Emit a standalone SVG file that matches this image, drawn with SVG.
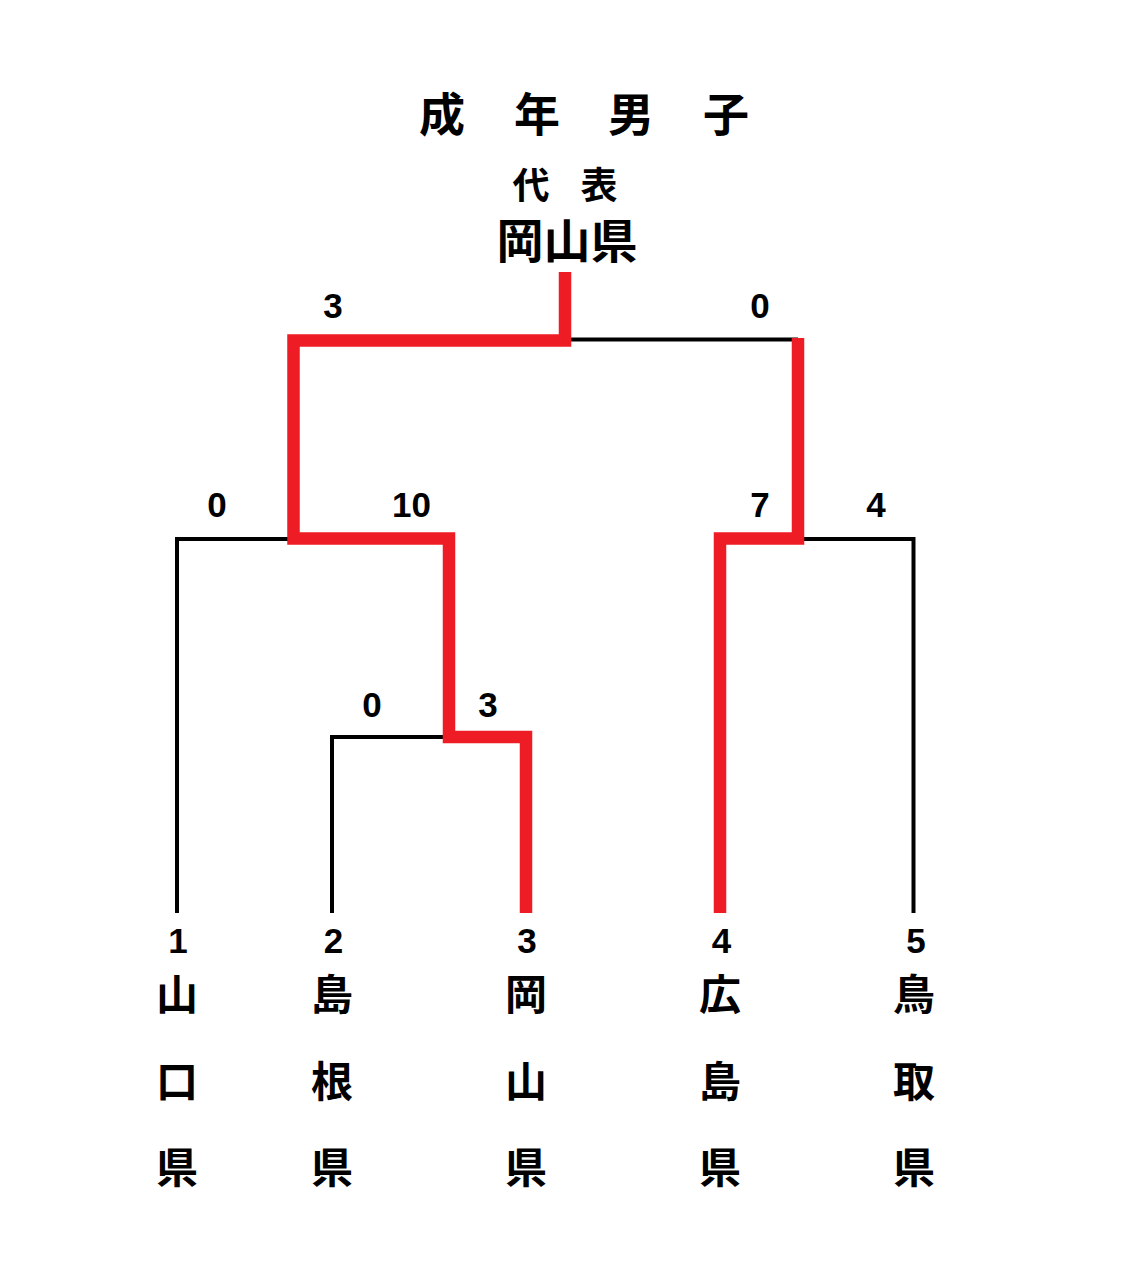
<svg xmlns="http://www.w3.org/2000/svg" width="1129" height="1280" viewBox="0 0 1129 1280">
<style>
.jp{font-family:"Noto Sans CJK JP","Noto Sans CJK SC",sans-serif;font-weight:bold;fill:#000;text-anchor:middle}
.num{font-family:"Liberation Sans",Arial,sans-serif;font-weight:bold;font-size:35px;fill:#000;text-anchor:middle}
.blk{fill:none;stroke:#000;stroke-width:4;stroke-linejoin:miter}
.red{fill:none;stroke:#EE1C25;stroke-width:12.5;stroke-linejoin:miter;stroke-linecap:butt}
.name{font-size:42px}
</style>
<rect width="1129" height="1280" fill="#fff"/>
<g id="title">
<text class="jp" font-size="46" y="131"><tspan x="442">成</tspan><tspan x="537">年</tspan><tspan x="631">男</tspan><tspan x="726">子</tspan></text>
</g>
<g id="champion">
<text class="jp" font-size="37" y="199"><tspan x="531">代</tspan><tspan x="599">表</tspan></text>
<text class="jp" font-size="47" x="567" y="258">岡山県</text>
</g>
<g id="connectors">
<path class="blk" d="M177,913 V539 H293"/>
<path class="blk" d="M332,913 V737 H449"/>
<path class="blk" d="M565,339.5 H798"/>
<path class="blk" d="M798,539 H913.5 V913"/>
<path class="red" d="M526,913 V737 H449 V538.5 H293.5 V340.5 H565 V272"/>
<path class="red" d="M720,913 V538.5 H798 V338"/>
</g>
<g id="scores">
<text class="num" x="333" y="318">3</text>
<text class="num" x="760" y="318">0</text>
<text class="num" x="217" y="517">0</text>
<text class="num" x="411.5" y="517">10</text>
<text class="num" x="760" y="517">7</text>
<text class="num" x="876" y="517">4</text>
<text class="num" x="372" y="717">0</text>
<text class="num" x="488" y="717">3</text>
</g>
<g id="team1">
<text class="num" x="178" y="953">1</text>
<text class="jp name"><tspan x="177" y="1010">山</tspan><tspan x="177" y="1097">口</tspan><tspan x="177" y="1183">県</tspan></text>
</g>
<g id="team2">
<text class="num" x="333.5" y="953">2</text>
<text class="jp name"><tspan x="332" y="1010">島</tspan><tspan x="332" y="1097">根</tspan><tspan x="332" y="1183">県</tspan></text>
</g>
<g id="team3">
<text class="num" x="527" y="953">3</text>
<text class="jp name"><tspan x="526" y="1010">岡</tspan><tspan x="526" y="1097">山</tspan><tspan x="526" y="1183">県</tspan></text>
</g>
<g id="team4">
<text class="num" x="721.5" y="953">4</text>
<text class="jp name"><tspan x="720" y="1010">広</tspan><tspan x="720" y="1097">島</tspan><tspan x="720" y="1183">県</tspan></text>
</g>
<g id="team5">
<text class="num" x="916" y="953">5</text>
<text class="jp name"><tspan x="914" y="1010">鳥</tspan><tspan x="914" y="1097">取</tspan><tspan x="914" y="1183">県</tspan></text>
</g>
</svg>
